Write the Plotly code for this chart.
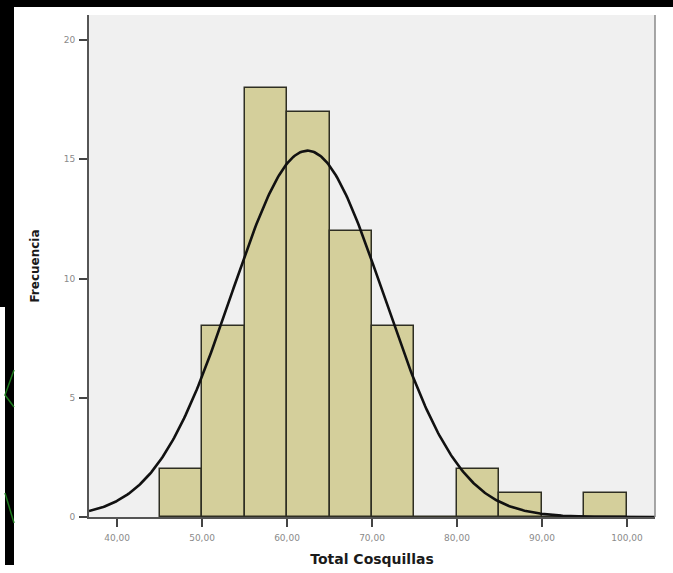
import numpy as np
import plotly.graph_objects as go

# Data
bin_starts = [45, 50, 55, 60, 65, 70, 75, 80, 85, 90, 95]
counts = [2, 8, 18, 17, 12, 8, 0, 2, 1, 0, 1]
bin_width = 5
x_tick_vals = [40, 50, 60, 70, 80, 90, 100]
x_tick_text = ["40,00", "50,00", "60,00", "70,00", "80,00", "90,00", "100,00"]
y_tick_vals = [0, 5, 10, 15, 20]
y_tick_text = ["0", "5", "10", "15", "20"]
curve_mean = 62.4
curve_sd = 8.96
n_total = sum(counts)

W, H = 673, 573
L, R, T, B = 89, 655, 15, 517

x_range = [36.7, 103.3]
y_range = [0, 21.05]

centers = [s + bin_width / 2 for s in bin_starts]

fig = go.Figure()
fig.add_trace(go.Bar(
    x=centers, y=counts, width=bin_width,
    marker=dict(color="#d4cf9b", line=dict(color="#2e2e22", width=1.5)),
    showlegend=False, hoverinfo="skip",
))

xs = np.linspace(x_range[0], x_range[1], 400)
ys = n_total * bin_width / (curve_sd * np.sqrt(2 * np.pi)) * np.exp(-0.5 * ((xs - curve_mean) / curve_sd) ** 2)
fig.add_trace(go.Scatter(x=xs, y=ys, mode="lines",
                         line=dict(color="#111111", width=2.6),
                         showlegend=False, hoverinfo="skip"))

def px_x(p):
    return (p - L) / (R - L)

def px_y(p):
    return (B - p) / (B - T)

shapes = []
# right border of plot frame
shapes.append(dict(type="line", xref="paper", yref="paper", x0=1, x1=1, y0=0, y1=1,
                   line=dict(color="#8a8a8a", width=1.5), layer="above"))
# black slide frame bands
shapes.append(dict(type="rect", xref="paper", yref="paper",
                   x0=px_x(0), x1=px_x(W), y0=px_y(0), y1=px_y(7),
                   fillcolor="black", line=dict(width=0), layer="above"))
shapes.append(dict(type="rect", xref="paper", yref="paper",
                   x0=px_x(0), x1=px_x(14), y0=px_y(0), y1=px_y(307),
                   fillcolor="black", line=dict(width=0), layer="above"))
shapes.append(dict(type="rect", xref="paper", yref="paper",
                   x0=px_x(5), x1=px_x(14), y0=px_y(307), y1=px_y(565),
                   fillcolor="black", line=dict(width=0), layer="above"))
# green chevrons
shapes.append(dict(type="path", xref="paper", yref="paper",
                   path=f"M {px_x(14)},{px_y(370)} L {px_x(5)},{px_y(395)} L {px_x(14)},{px_y(407)}",
                   line=dict(color="#1e7a1e", width=1.5), layer="above"))
shapes.append(dict(type="line", xref="paper", yref="paper",
                   x0=px_x(5), y0=px_y(493), x1=px_x(14), y1=px_y(523),
                   line=dict(color="#1e7a1e", width=1.5), layer="above"))

fig.update_layout(
    width=W, height=H,
    margin=dict(l=L, r=W - R, t=T, b=H - B, pad=0),
    paper_bgcolor="white",
    plot_bgcolor="#f0f0f0",
    bargap=0,
    shapes=shapes,
    font=dict(family="DejaVu Sans, Verdana, sans-serif"),
    xaxis=dict(
        range=x_range, tickvals=x_tick_vals, ticktext=x_tick_text,
        showgrid=False, zeroline=False, automargin=False,
        showline=True, linecolor="#555555", linewidth=2,
        ticks="outside", ticklen=8, tickcolor="#444444", tickwidth=1.5,
        ticklabelstandoff=3,
        tickfont=dict(size=9, color="#8a8a8a"),
        title=dict(text="<b>Total Cosquillas</b>", font=dict(size=14, color="#1a1a1a"), standoff=12),
    ),
    yaxis=dict(
        range=y_range, tickvals=y_tick_vals, ticktext=y_tick_text,
        showgrid=False, zeroline=False, automargin=False,
        showline=True, linecolor="#555555", linewidth=2,
        ticks="outside", ticklen=8, tickcolor="#444444", tickwidth=1.5,
        ticklabelstandoff=2,
        tickfont=dict(size=9, color="#8a8a8a"),
        title=dict(text="<b>Frecuencia</b>", font=dict(size=12, color="#1a1a1a"), standoff=22),
    ),
)

fig.write_html("out.html")
